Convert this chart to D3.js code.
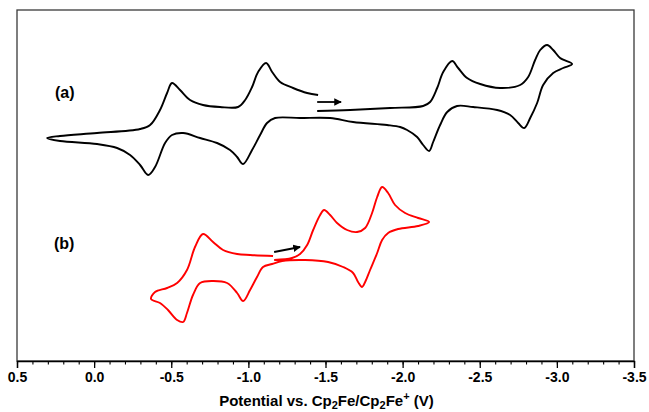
<!DOCTYPE html>
<html>
<head>
<meta charset="utf-8">
<script src="https://cdn.jsdelivr.net/npm/d3@7"></script>
<style>
  html, body { margin: 0; padding: 0; background: #fff; }
  svg { display: block; }
  text { font-family: "Liberation Sans", Arial, sans-serif; font-weight: bold; }
</style>
</head>
<body>
<svg id="chart" width="649" height="412"></svg>
<script>
// ---- Data (potential in V vs Fc/Fc+, current in arbitrary units) ----
const curveA_E = [-1.446,-1.660,-1.919,-2.133,-2.178,-2.224,-2.263,-2.321,-2.360,-2.418,-2.503,-2.632,-2.762,-2.814,-2.859,-2.892,-2.937,-2.976,-3.021,-3.099,
  -3.041,-2.976,-2.911,-2.872,-2.827,-2.788,-2.749,-2.697,-2.613,-2.457,-2.353,-2.289,-2.243,-2.198,-2.172,-2.133,-2.094,-2.029,-1.984,-1.899,-1.679,-1.530,-1.335,-1.173,-1.121,-1.076,-1.024,-0.966,-0.927,-0.881,-0.797,-0.687,-0.577,-0.505,-0.460,-0.395,-0.350,-0.298,-0.233,-0.149,-0.019,0.221,0.305,
  0.221,-0.019,-0.298,-0.363,-0.427,-0.473,-0.505,-0.557,-0.622,-0.706,-0.816,-0.933,-0.979,-1.024,-1.063,-1.115,-1.154,-1.206,-1.290,-1.381,-1.452];
const curveA_I = [25.0,25.1,25.3,25.5,25.9,27.3,28.9,30.0,29.3,28.3,27.7,27.3,27.6,28.4,30.1,31.1,31.6,31.1,30.3,29.7,
  29.3,28.8,27.6,25.8,24.3,23.3,23.8,24.6,25.1,25.4,25.5,24.9,23.6,21.9,21.0,21.6,22.4,23.1,23.4,23.6,23.9,24.3,24.3,24.3,23.8,22.6,21.1,19.7,20.4,21.1,21.8,22.3,22.8,22.6,21.8,19.4,18.6,19.6,20.6,21.3,21.7,22.0,22.3,
  22.5,22.8,23.2,23.6,25.1,26.8,27.8,27.1,26.1,25.6,25.4,25.4,26.1,27.4,28.9,29.8,28.9,27.9,27.3,26.8,26.6];

const curveB_E = [-1.167,-1.283,-1.335,-1.381,-1.420,-1.465,-1.491,-1.530,-1.575,-1.640,-1.705,-1.757,-1.802,-1.835,-1.867,-1.906,-1.951,-2.016,-2.101,-2.172,
  -2.101,-1.971,-1.906,-1.867,-1.835,-1.789,-1.757,-1.737,-1.711,-1.679,-1.614,-1.517,-1.368,-1.219,-1.154,-1.095,-1.056,-1.011,-0.966,-0.927,-0.862,-0.771,-0.687,-0.641,-0.602,-0.577,-0.538,-0.479,-0.427,-0.369,
  -0.395,-0.473,-0.538,-0.602,-0.654,-0.706,-0.771,-0.836,-0.927,-1.011,-1.160];
const curveB_I = [10.1,10.3,10.7,11.6,13.1,14.6,15.1,14.6,13.8,13.1,12.9,13.3,14.8,16.4,17.4,16.8,15.6,14.8,14.3,13.9,
  13.5,13.2,12.8,12.1,10.8,9.1,7.9,7.4,7.9,8.8,9.4,9.9,10.1,10.0,9.7,9.4,8.4,7.1,6.0,6.8,7.8,8.0,7.8,6.6,4.8,3.9,4.1,5.1,5.8,6.2,
  6.9,7.3,7.8,9.1,11.4,12.7,11.9,11.1,10.7,10.6,10.5];

// scan direction arrows: [E_start, I_start, E_end, I_end]
const arrowA = [-1.446, 25.9, -1.601, 25.9];
const arrowB = [-1.167, 10.9, -1.335, 11.4];

const majorTicks = [0.5, 0.0, -0.5, -1.0, -1.5, -2.0, -2.5, -3.0, -3.5];
const minorTicks = d3.range(0, 41).map(i => +(0.5 - i * 0.1).toFixed(1));
const panelLabels = ["(a)", "(b)"];

// ---- Layout ----
const svg = d3.select("#chart");
const L = 17, R = 634, T = 10, B = 361;

const x = d3.scaleLinear().domain([0.5, -3.5]).range([L, R]);
const y = d3.scaleLinear().domain([0, 35.1]).range([B, T]);

const defs = svg.append("defs");
defs.append("marker")
  .attr("id", "ah").attr("viewBox", "0 0 10 10")
  .attr("refX", 9).attr("refY", 5)
  .attr("markerWidth", 4.2).attr("markerHeight", 4.2)
  .attr("markerUnits", "strokeWidth")
  .attr("orient", "auto")
  .append("path").attr("d", "M0,0 L10,5 L0,10 Z").attr("fill", "#000");

// frame
svg.append("rect")
  .attr("x", L).attr("y", T).attr("width", R - L).attr("height", B - T)
  .attr("fill", "none").attr("stroke", "#3a3a3a").attr("stroke-width", 1.3);

// minor ticks
svg.append("g").attr("transform", `translate(0,${B})`)
  .call(d3.axisBottom(x).tickValues(minorTicks).tickSize(3.5).tickFormat(""))
  .call(g => g.select(".domain").remove())
  .call(g => g.selectAll("line").attr("stroke", "#000").attr("stroke-width", 1.1));

// major ticks + labels
svg.append("g").attr("transform", `translate(0,${B})`)
  .call(d3.axisBottom(x).tickValues(majorTicks).tickSize(7).tickPadding(4)
    .tickFormat(d => (Math.abs(d) < 1e-9 ? 0 : d).toFixed(1)))
  .call(g => g.select(".domain").attr("stroke", "#000").attr("stroke-width", 1.3))
  .call(g => g.selectAll("line").attr("stroke", "#000").attr("stroke-width", 1.3))
  .call(g => g.selectAll("text").attr("fill", "#000").attr("font-size", 14)
    .attr("font-family", "'Liberation Sans', Arial, sans-serif").attr("font-weight", "bold"));

// axis title
const title = svg.append("text")
  .attr("x", (L + R) / 2 + 1).attr("y", 406)
  .attr("text-anchor", "middle").attr("font-size", 15).attr("fill", "#000");
title.append("tspan").text("Potential vs. Cp");
title.append("tspan").attr("font-size", 11).attr("dy", 3).text("2");
title.append("tspan").attr("dy", -3).text("Fe/Cp");
title.append("tspan").attr("font-size", 11).attr("dy", 3).text("2");
title.append("tspan").attr("dy", -3).text("Fe");
title.append("tspan").attr("font-size", 11).attr("dy", -6).text("+");
title.append("tspan").attr("dy", 6).text(" (V)");

// curves
const line = d3.line()
  .x(d => x(d[0])).y(d => y(d[1]))
  .curve(d3.curveCatmullRom.alpha(0.5));

const dataA = curveA_E.map((e, i) => [e, curveA_I[i]]);
const dataB = curveB_E.map((e, i) => [e, curveB_I[i]]);

svg.append("path").datum(dataA).attr("d", line)
  .attr("fill", "none").attr("stroke", "#000").attr("stroke-width", 1.9)
  .attr("stroke-linejoin", "round");
svg.append("path").datum(dataB).attr("d", line)
  .attr("fill", "none").attr("stroke", "#ff0000").attr("stroke-width", 1.9)
  .attr("stroke-linejoin", "round");

// arrows
[arrowA, arrowB].forEach(a => {
  svg.append("line")
    .attr("x1", x(a[0])).attr("y1", y(a[1]))
    .attr("x2", x(a[2])).attr("y2", y(a[3]))
    .attr("stroke", "#000").attr("stroke-width", 1.8)
    .attr("marker-end", "url(#ah)");
});

// panel labels
svg.append("text").attr("x", 55).attr("y", 98).attr("font-size", 16).attr("fill", "#000").text(panelLabels[0]);
svg.append("text").attr("x", 54).attr("y", 249).attr("font-size", 16).attr("fill", "#000").text(panelLabels[1]);
</script>
</body>
</html>
